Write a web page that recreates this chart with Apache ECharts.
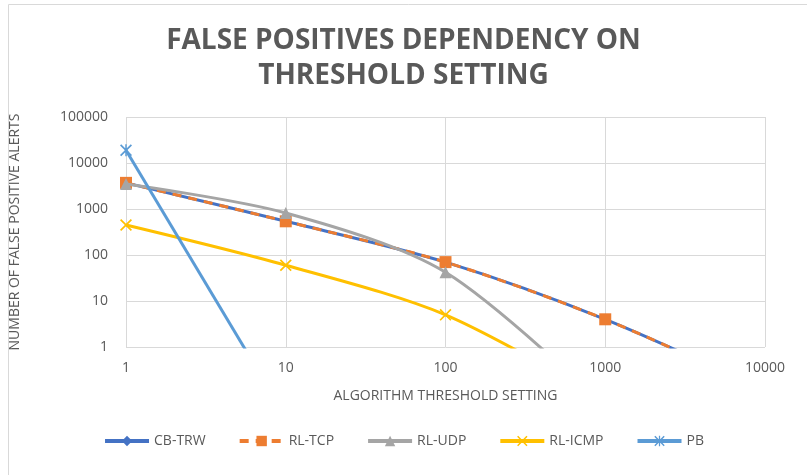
<!DOCTYPE html>
<html>
<head>
<meta charset="utf-8">
<script src="https://cdn.jsdelivr.net/npm/echarts@6/dist/echarts.min.js"></script>
<style>html,body{margin:0;padding:0;background:#fff;}#c{width:807px;height:475px;}</style>
</head>
<body>
<div id="c"></div>
<script>
const xThresholds = [1, 10, 100, 1000, 10000];
const cbTrw  = [3700, 540, 70, 4, 0.11];
const rlTcp  = [3700, 540, 70, 4, 0.11];
const rlUdp  = [3500, 820, 42, 0.05];
const rlIcmp = [450, 60, 5, 0.07];
const pb     = [19000, 0.03];
const seriesNames = ['CB-TRW', 'RL-TCP', 'RL-UDP', 'RL-ICMP', 'PB'];

function pairs(vals) { return vals.map((v, i) => [xThresholds[i], v]); }

const X_PATH = 'path://M0,1L1,0L5,4L9,0L10,1L6,5L10,9L9,10L5,6L1,10L0,9L4,5Z';
const STAR_PATH = 'path://M0,1L1,0L5,4L9,0L10,1L6,5L10,9L9,10L5,6L1,10L0,9L4,5Z M4.4,0L5.6,0L5.6,10L4.4,10Z';

const chart = echarts.init(document.getElementById('c'));
const txt = '#595959';
const fmt = v => String(Math.round(v));
chart.setOption({
  animation: false,
  graphic: [{
    type: 'rect', left: 6, top: 2, z: -1,
    shape: { width: 820, height: 472 },
    style: { fill: 'none', stroke: '#d9d9d9', lineWidth: 1 }
  }],
  title: {
    text: 'FALSE POSITIVES DEPENDENCY ON\nTHRESHOLD SETTING',
    left: 'center', top: 19,
    textStyle: { fontFamily: 'Open Sans', fontWeight: 'bold', fontSize: 28, color: txt, lineHeight: 35 }
  },
  legend: {
    data: seriesNames,
    bottom: 22, left: 'center',
    itemWidth: 44, itemHeight: 13, itemGap: 32,
    lineStyle: { width: 4 },
    textStyle: { fontFamily: 'Open Sans', fontSize: 14, color: txt }
  },
  grid: { left: 126, right: 42, top: 117, bottom: 128 },
  xAxis: {
    type: 'log', logBase: 10, min: 1, max: 10000,
    name: 'ALGORITHM THRESHOLD SETTING', nameLocation: 'middle', nameGap: 42,
    nameTextStyle: { fontFamily: 'Open Sans', fontSize: 14, color: txt },
    axisLine: { show: false }, axisTick: { show: false },
    axisLabel: { fontFamily: 'Open Sans', fontSize: 14, color: txt, margin: 14, formatter: fmt },
    splitLine: { show: true, lineStyle: { color: '#d9d9d9', width: 1 } }
  },
  yAxis: {
    type: 'log', logBase: 10, min: 1, max: 100000,
    name: 'NUMBER OF FALSE POSITIVE ALERTS', nameLocation: 'middle', nameGap: 104,
    nameTextStyle: { fontFamily: 'Open Sans', fontSize: 14, color: txt },
    axisLine: { show: false }, axisTick: { show: false },
    axisLabel: { fontFamily: 'Open Sans', fontSize: 14, color: txt, margin: 18, formatter: fmt },
    splitLine: { show: true, lineStyle: { color: '#d9d9d9', width: 1 } }
  },
  series: [
    { name: 'CB-TRW', type: 'line', data: pairs(cbTrw), smooth: 0.3, clip: true,
      symbol: 'diamond', symbolSize: 11, color: '#4472C4',
      lineStyle: { width: 3, color: '#4472C4' }, z: 2 },
    { name: 'RL-TCP', type: 'line', data: pairs(rlTcp), smooth: 0.3, clip: true,
      symbol: 'rect', symbolSize: 12, color: '#ED7D31',
      lineStyle: { width: 3, color: '#ED7D31', type: [9, 7] }, z: 3 },
    { name: 'RL-UDP', type: 'line', data: pairs(rlUdp), smooth: 0.3, clip: true,
      symbol: 'triangle', symbolSize: 12, color: '#A5A5A5',
      lineStyle: { width: 3, color: '#A5A5A5' }, z: 4 },
    { name: 'RL-ICMP', type: 'line', data: pairs(rlIcmp), smooth: 0.3, clip: true,
      symbol: X_PATH, symbolSize: 12, color: '#FFC000',
      lineStyle: { width: 3, color: '#FFC000' }, z: 4 },
    { name: 'PB', type: 'line', data: pairs(pb), smooth: 0.3, clip: true,
      symbol: STAR_PATH, symbolSize: 12, color: '#5B9BD5',
      lineStyle: { width: 3, color: '#5B9BD5' }, z: 5 }
  ]
});
</script>
</body>
</html>
